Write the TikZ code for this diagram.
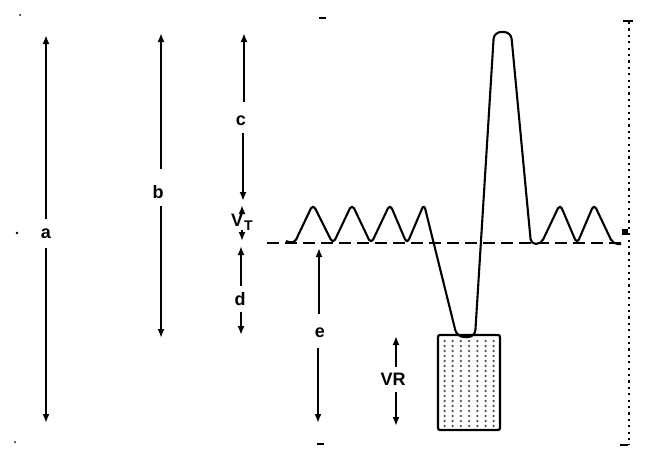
\documentclass[tikz,border=0pt]{standalone}
\usepackage{fontspec}
\setmainfont{Liberation Sans}
\usetikzlibrary{arrows.meta}
\begin{document}
\begin{tikzpicture}[x=1pt,y=-1pt,
  dim/.style={line width=2pt,-{Latex[length=9pt,width=7pt]}},
  lbl/.style={font=\fontsize{18}{18}\selectfont\bfseries,inner sep=0pt},
  wave/.style={line width=2.1pt,line join=round},
  base/.style={line width=1.8pt,dash pattern=on 12pt off 6pt},
  dotline/.style={line width=2.2pt,dash pattern=on 2.2pt off 4.2pt},
  tickmark/.style={line width=1.8pt}]
\useasboundingbox (0,0) rectangle (672,463);

% ---- dimension arrow a ----
\node[lbl] (la) at (46,234) {a};
\coordinate (a1) at (46,35); \coordinate (a2) at (46,219);
\coordinate (a3) at (46,248); \coordinate (a4) at (46,423);
\draw[dim] (a2) -- (a1);
\draw[dim] (a3) -- (a4);

% ---- dimension arrow b ----
\node[lbl] (lb) at (158,192) {b};
\coordinate (b1) at (161,33); \coordinate (b2) at (161,169);
\coordinate (b3) at (161,206); \coordinate (b4) at (161,338);
\draw[dim] (b2) -- (b1);
\draw[dim] (b3) -- (b4);

% ---- dimension arrow c ----
\node[lbl] (lc) at (241,121) {c};
\coordinate (c1) at (244,33); \coordinate (c2) at (244,102);
\coordinate (c3) at (243,133); \coordinate (c4) at (243,201);
\draw[dim] (c2) -- (c1);
\draw[dim] (c3) -- (c4);

% ---- V_T ----
\node[lbl,anchor=base] (lvt) at (242,226) {V\kern1pt\raisebox{-4pt}{\fontsize{14}{14}\selectfont\bfseries T}};
\coordinate (v1) at (242,214); \coordinate (v2) at (242,205);
\coordinate (v3) at (242,230); \coordinate (v4) at (242,241);
\draw[dim] (v1) -- (v2);
\draw[dim] (v3) -- (v4);

% ---- dimension arrow d ----
\node[lbl] (ld) at (240,299) {d};
\coordinate (d1) at (241,246); \coordinate (d2) at (241,286);
\coordinate (d3) at (241,312); \coordinate (d4) at (241,335);
\draw[dim] (d2) -- (d1);
\draw[dim] (d3) -- (d4);

% ---- dimension arrow e ----
\node[lbl] (le) at (320,333) {e};
\coordinate (e1) at (319,248); \coordinate (e2) at (319,314);
\coordinate (e3) at (318,348); \coordinate (e4) at (318,423);
\draw[dim] (e2) -- (e1);
\draw[dim] (e3) -- (e4);

% ---- VR ----
\node[lbl] (lvr) at (393,379) {VR};
\coordinate (r1) at (396,336); \coordinate (r2) at (396,367);
\coordinate (r3) at (396,392); \coordinate (r4) at (396,426);
\draw[dim] (r2) -- (r1);
\draw[dim] (r3) -- (r4);

% ---- baseline (threshold) ----
\coordinate (bl1) at (267,243); \coordinate (bl2) at (622,243);
\draw[base] (bl1) -- (bl2);

% ---- waveform ----
\draw[wave,rounded corners=5pt]
  (286,241) -- (294,244) -- (313,204) -- (333,244) -- (352,204) -- (371,244)
  -- (390,204) -- (407,244) -- (424,204) [rounded corners=7pt]
  -- (457,337) -- (475,337) -- (494,32) -- (511,32) [rounded corners=5pt]
  -- (531,244) -- (541,244) -- (560,204) -- (577,244)
  -- (594,204) -- (613,244) -- (621,244);

% ---- stimulus rectangle ----
\coordinate (rt1) at (438,335); \coordinate (rt2) at (500,430);
\foreach \i in {0,...,6}{
  \foreach \j in {0,...,17}{
    \fill[black!70] (444.5+\i*8.2,341+\j*5) circle (1.25pt);
  }
}
\draw[line width=2.2pt,rounded corners=2pt] (rt1) rectangle (rt2);

% ---- right dotted line ----
\coordinate (dl1) at (629,22); \coordinate (dl2) at (629,445);
\draw[dotline] (dl1) -- (dl2);
\draw[tickmark] (623,21) -- (633,21);
\draw[tickmark] (620,445) -- (628,445);
\fill (622,229) rectangle (628,235);

% ---- small marks ----
\draw[tickmark] (319,18) -- (326,18);
\draw[tickmark] (317,444) -- (324,444);
\fill (20,15) circle (1pt);
\fill (17,233) circle (1.3pt);
\fill (15,442) circle (1pt);
\end{tikzpicture}
\end{document}
